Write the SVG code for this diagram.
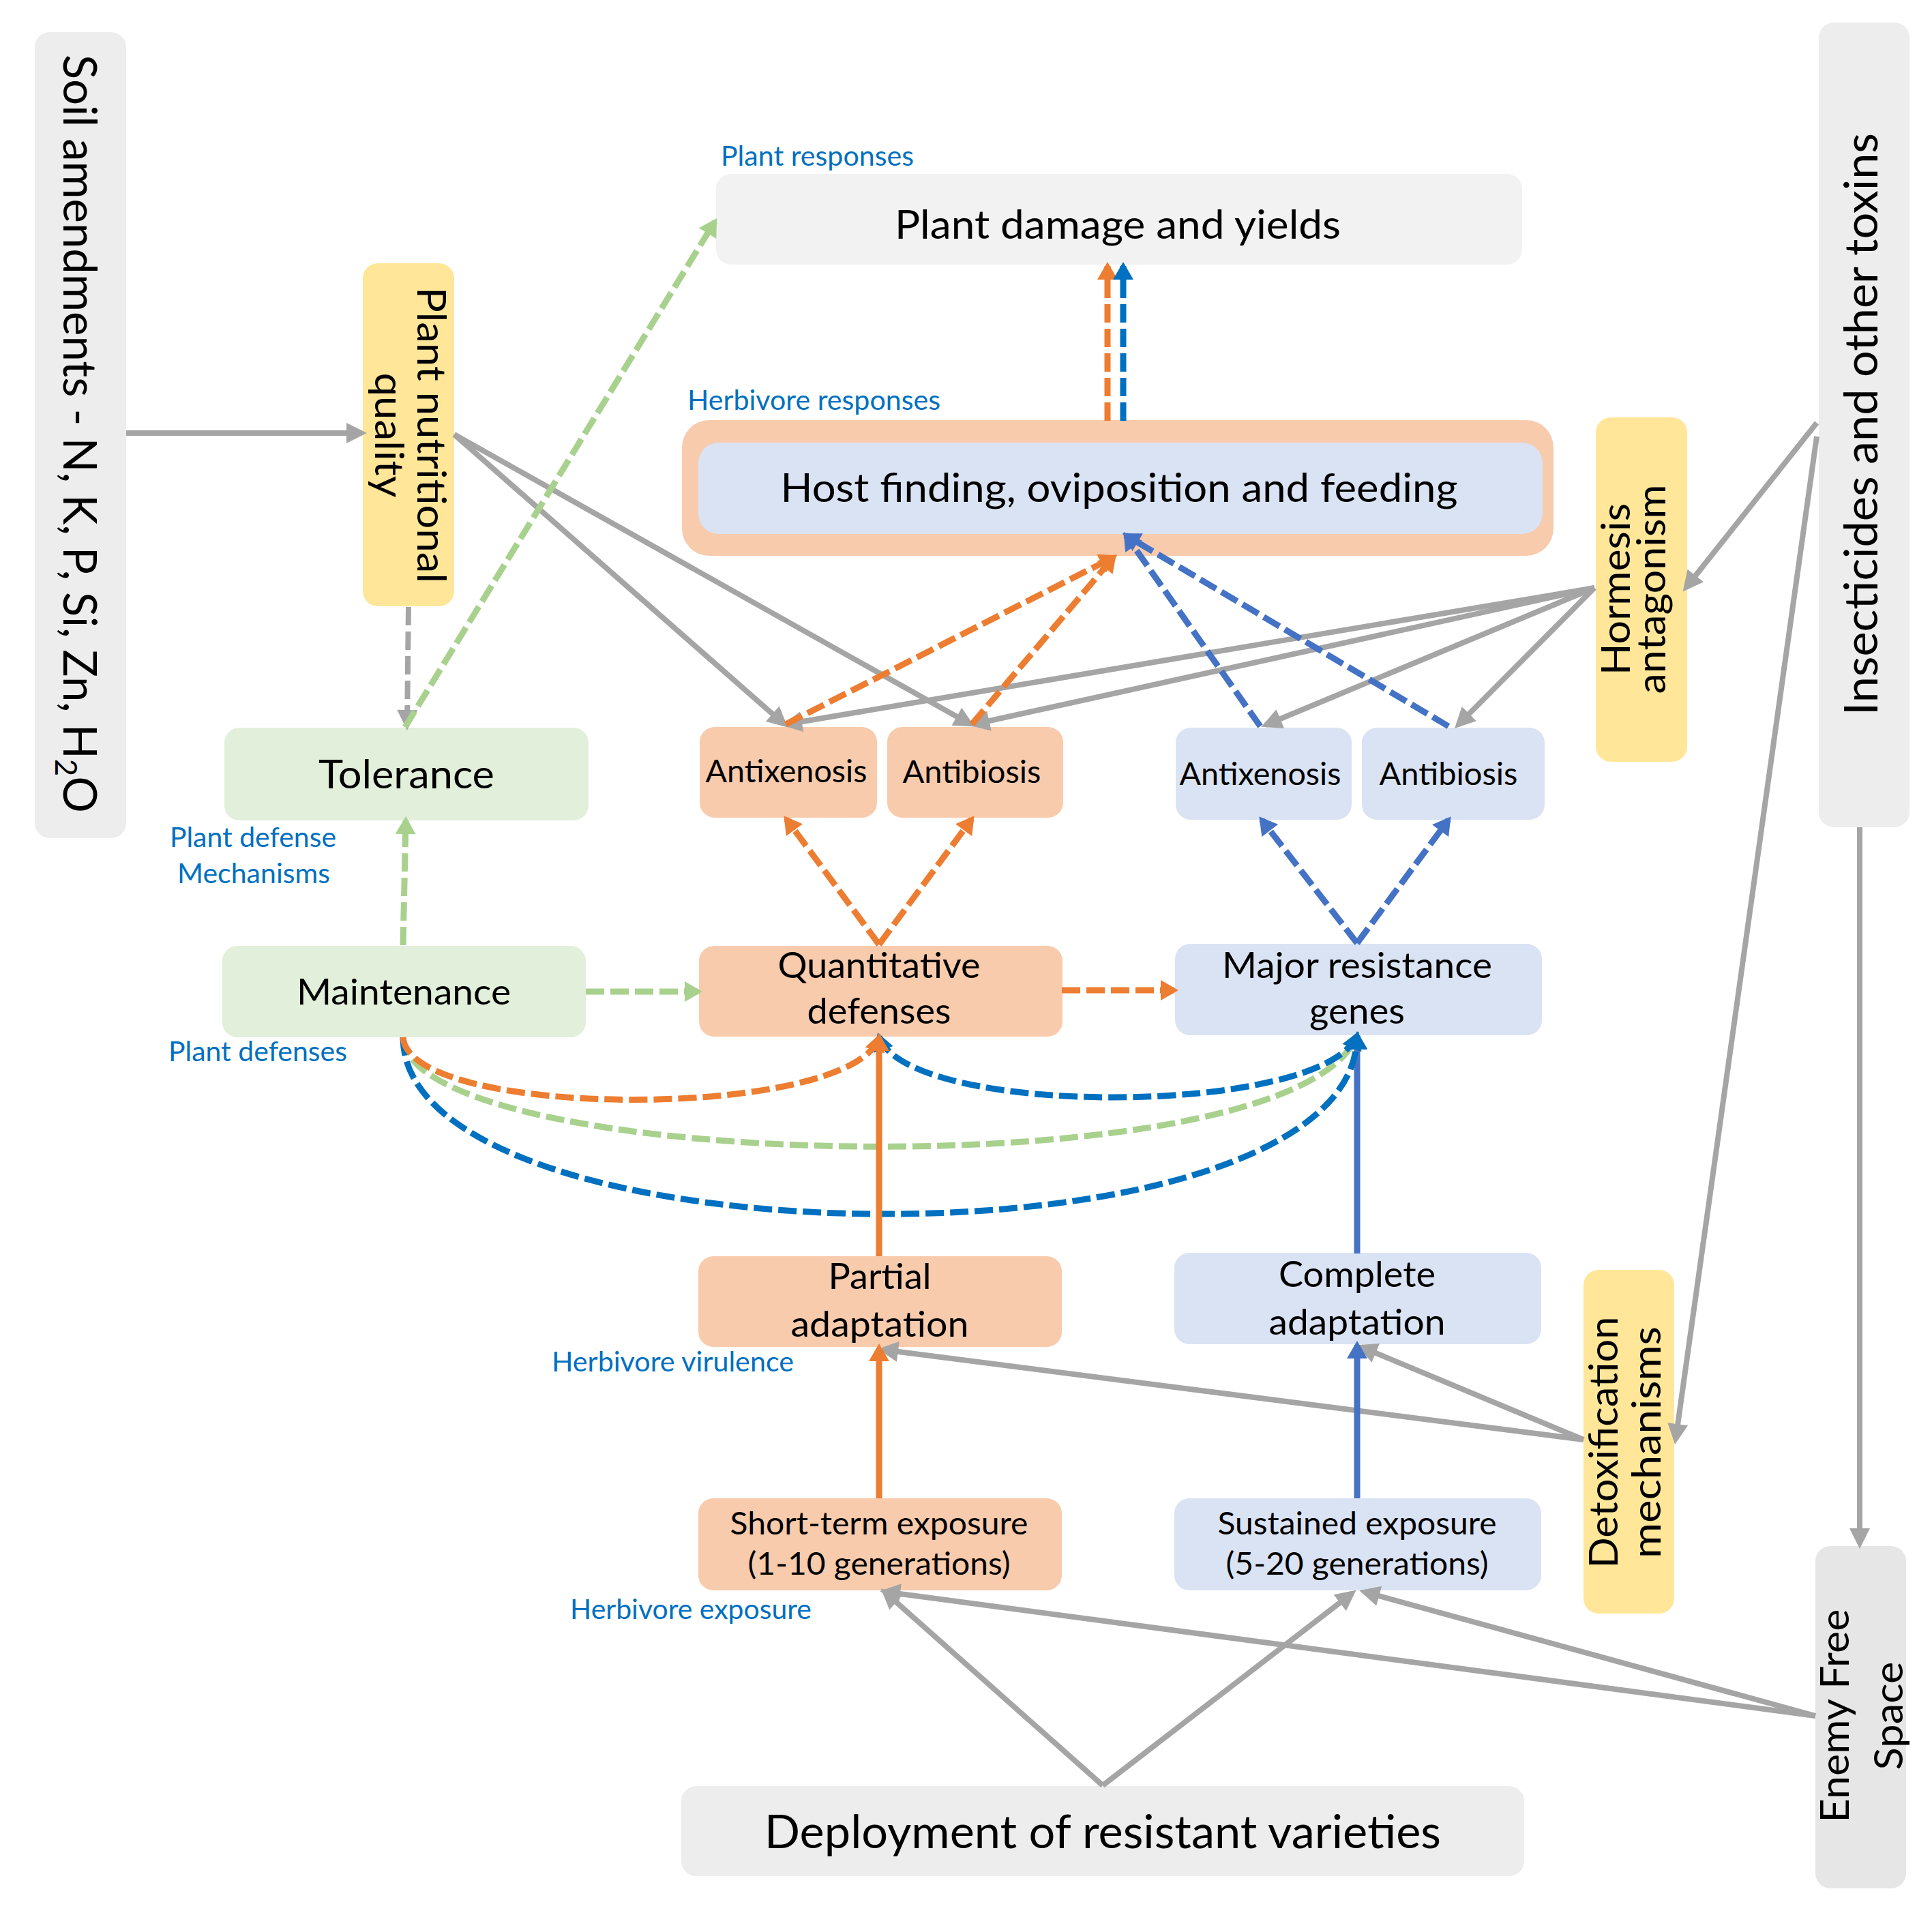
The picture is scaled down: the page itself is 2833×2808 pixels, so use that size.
<svg xmlns="http://www.w3.org/2000/svg" width="2833" height="2808" viewBox="0 0 2833 2808">
<style>
text{font-family:Lato,'Liberation Sans','DejaVu Sans',sans-serif;fill:#000;text-anchor:middle}
.l{fill:#0070C0;font-size:40px;text-anchor:start}
.lm{fill:#0070C0;font-size:40px}
.s74{font-size:67px}
.s66{font-size:59px}
.s64{font-size:58px}
.s58{font-size:52px}
.s51{font-size:46px}
.grey1{fill:#EDEDED}
.peach{fill:#F8CBAD}
.lblue{fill:#DAE3F3}
.lgreen{fill:#E2EFDA}
.yel{fill:#FFE699}
.c{fill:none}
.gy{stroke:#A5A5A5;stroke-width:8}
.or{stroke:#ED7D31;stroke-width:9}
.b1{stroke:#4472C4;stroke-width:9}
.b2{stroke:#0070C0;stroke-width:9}
.gr{stroke:#A9D18E;stroke-width:9}
.d{stroke-dasharray:27 9}
</style>
<defs>
<marker id="mg" markerUnits="userSpaceOnUse" markerWidth="30" markerHeight="30" refX="23" refY="15" orient="auto" overflow="visible"><path d="M0,0L30,15L0,30z" fill="#A5A5A5"/></marker>
<marker id="mo" markerUnits="userSpaceOnUse" markerWidth="26" markerHeight="30" refX="20" refY="15" orient="auto" overflow="visible"><path d="M0,0L26,15L0,30z" fill="#ED7D31"/></marker>
<marker id="mb1" markerUnits="userSpaceOnUse" markerWidth="26" markerHeight="30" refX="20" refY="15" orient="auto" overflow="visible"><path d="M0,0L26,15L0,30z" fill="#4472C4"/></marker>
<marker id="mb2" markerUnits="userSpaceOnUse" markerWidth="26" markerHeight="30" refX="20" refY="15" orient="auto-start-reverse" overflow="visible"><path d="M0,0L26,15L0,30z" fill="#0070C0"/></marker>
<marker id="mgr" markerUnits="userSpaceOnUse" markerWidth="26" markerHeight="30" refX="20" refY="15" orient="auto" overflow="visible"><path d="M0,0L26,15L0,30z" fill="#A9D18E"/></marker>
</defs>

<g id="soil">
<rect x="51" y="47" width="134" height="1182" rx="22" class="grey1"/>
<text class="s74" transform="translate(118,636) rotate(90)" y="25" textLength="1112" lengthAdjust="spacingAndGlyphs">Soil amendments - N, K, P, Si, Zn, H<tspan font-size="44" dy="12">2</tspan><tspan dy="-12">O</tspan></text>
</g>

<g id="plant-nutritional-quality">
<rect x="532" y="386" width="134" height="503" rx="22" class="yel"/>
<g transform="translate(599,638) rotate(90)">
<text class="s66" y="-13" textLength="434" lengthAdjust="spacingAndGlyphs">Plant nutritional</text>
<text class="s66" y="49" textLength="183" lengthAdjust="spacingAndGlyphs">quality</text>
</g>
</g>

<g id="tolerance">
<rect x="329" y="1067" width="534" height="136" rx="22" class="lgreen"/>
<text class="s64" x="596" y="1156" textLength="258" lengthAdjust="spacingAndGlyphs">Tolerance</text>
</g>

<g id="plant-damage">
<rect x="1050" y="255" width="1182" height="133" rx="22" fill="#F2F2F2"/>
<text class="s66" x="1639" y="350" textLength="654" lengthAdjust="spacingAndGlyphs">Plant damage and yields</text>
</g>

<g id="host-finding">
<rect x="1000" y="616" width="1278" height="199" rx="40" class="peach"/>
<rect x="1024" y="649" width="1238" height="134" rx="30" class="lblue"/>
<text class="s66" x="1641" y="736" textLength="993" lengthAdjust="spacingAndGlyphs">Host finding, oviposition and feeding</text>
</g>

<g id="antixenosis-q">
<rect x="1026" y="1066" width="260" height="133" rx="22" class="peach"/>
<text class="s51" x="1153" y="1147" textLength="237" lengthAdjust="spacingAndGlyphs">Antixenosis</text>
</g>
<g id="antibiosis-q">
<rect x="1301" y="1066" width="258" height="133" rx="22" class="peach"/>
<text class="s51" x="1425" y="1148" textLength="203" lengthAdjust="spacingAndGlyphs">Antibiosis</text>
</g>
<g id="antixenosis-m">
<rect x="1724" y="1067" width="258" height="135" rx="22" class="lblue"/>
<text class="s51" x="1848" y="1151" textLength="237" lengthAdjust="spacingAndGlyphs">Antixenosis</text>
</g>
<g id="antibiosis-m">
<rect x="1997" y="1067" width="268" height="135" rx="22" class="lblue"/>
<text class="s51" x="2124" y="1151" textLength="203" lengthAdjust="spacingAndGlyphs">Antibiosis</text>
</g>

<g id="hormesis">
<rect x="2340" y="612" width="134" height="505" rx="22" class="yel"/>
<g transform="translate(2407,864) rotate(-90)">
<text class="s66" y="-17" textLength="252" lengthAdjust="spacingAndGlyphs">Hormesis</text>
<text class="s66" y="35" textLength="307" lengthAdjust="spacingAndGlyphs">antagonism</text>
</g>
</g>

<g id="insecticides">
<rect x="2667" y="33" width="133" height="1180" rx="22" class="grey1"/>
<text class="s74" transform="translate(2733,622) rotate(-90)" y="20" textLength="854" lengthAdjust="spacingAndGlyphs">Insecticides and other toxins</text>
</g>

<g id="maintenance">
<rect x="326" y="1387" width="533" height="134" rx="22" class="lgreen"/>
<text class="s58" x="592" y="1473" textLength="314" lengthAdjust="spacingAndGlyphs">Maintenance</text>
</g>

<g id="quantitative-defenses">
<rect x="1025" y="1387" width="533" height="133" rx="22" class="peach"/>
<text class="s58" x="1289" y="1434" textLength="297" lengthAdjust="spacingAndGlyphs">Quantitative</text>
<text class="s58" x="1289" y="1501" textLength="211" lengthAdjust="spacingAndGlyphs">defenses</text>
</g>

<g id="major-resistance-genes">
<rect x="1723" y="1384" width="538" height="134" rx="22" class="lblue"/>
<text class="s58" x="1990" y="1434" textLength="396" lengthAdjust="spacingAndGlyphs">Major resistance</text>
<text class="s58" x="1990" y="1501" textLength="140" lengthAdjust="spacingAndGlyphs">genes</text>
</g>

<g id="partial-adaptation">
<rect x="1024" y="1842" width="533" height="133" rx="22" class="peach"/>
<text class="s58" x="1290" y="1890" textLength="151" lengthAdjust="spacingAndGlyphs">Partial</text>
<text class="s58" x="1290" y="1960" textLength="261" lengthAdjust="spacingAndGlyphs">adaptation</text>
</g>

<g id="complete-adaptation">
<rect x="1722" y="1837" width="538" height="134" rx="22" class="lblue"/>
<text class="s58" x="1990" y="1887" textLength="230" lengthAdjust="spacingAndGlyphs">Complete</text>
<text class="s58" x="1990" y="1957" textLength="259" lengthAdjust="spacingAndGlyphs">adaptation</text>
</g>

<g id="short-term-exposure">
<rect x="1024" y="2197" width="533" height="135" rx="22" class="peach"/>
<text class="s51" x="1289" y="2250" textLength="437" lengthAdjust="spacingAndGlyphs">Short-term exposure</text>
<text class="s51" x="1289" y="2309" textLength="385" lengthAdjust="spacingAndGlyphs">(1-10 generations)</text>
</g>

<g id="sustained-exposure">
<rect x="1722" y="2197" width="538" height="135" rx="22" class="lblue"/>
<text class="s51" x="1990" y="2250" textLength="409" lengthAdjust="spacingAndGlyphs">Sustained exposure</text>
<text class="s51" x="1990" y="2309" textLength="385" lengthAdjust="spacingAndGlyphs">(5-20 generations)</text>
</g>

<g id="deployment">
<rect x="999" y="2619" width="1236" height="132" rx="22" class="grey1"/>
<text class="s74" x="1617" y="2710" textLength="992" lengthAdjust="spacingAndGlyphs">Deployment of resistant varieties</text>
</g>

<g id="detoxification">
<rect x="2322" y="1862" width="133" height="504" rx="22" class="yel"/>
<g transform="translate(2388,2115) rotate(-90)">
<text class="s66" y="-16" textLength="369" lengthAdjust="spacingAndGlyphs">Detoxification</text>
<text class="s66" y="47" textLength="340" lengthAdjust="spacingAndGlyphs">mechanisms</text>
</g>
</g>

<g id="enemy-free-space">
<rect x="2662" y="2267" width="133" height="502" rx="22" fill="#E7E6E6"/>
<g transform="translate(2728,2516) rotate(-90)">
<text class="s66" y="-17" textLength="313" lengthAdjust="spacingAndGlyphs">Enemy Free</text>
<text class="s66" y="62" textLength="159" lengthAdjust="spacingAndGlyphs">Space</text>
</g>
</g>

<g id="labels">
<text class="l" x="1057" y="243" textLength="283" lengthAdjust="spacingAndGlyphs">Plant responses</text>
<text class="l" x="1008" y="601" textLength="371" lengthAdjust="spacingAndGlyphs">Herbivore responses</text>
<text class="lm" x="371" y="1242" textLength="244" lengthAdjust="spacingAndGlyphs">Plant defense</text>
<text class="lm" x="372" y="1295" textLength="224" lengthAdjust="spacingAndGlyphs">Mechanisms</text>
<text class="l" x="247" y="1556" textLength="262" lengthAdjust="spacingAndGlyphs">Plant defenses</text>
<text class="l" x="809" y="2011" textLength="355" lengthAdjust="spacingAndGlyphs">Herbivore virulence</text>
<text class="l" x="836" y="2374" textLength="354" lengthAdjust="spacingAndGlyphs">Herbivore exposure</text>
</g>

<g id="connectors" class="c">
<path class="gy" d="M185,635L531,635" marker-end="url(#mg)"/>
<path class="gy" d="M666,637L1150,1062" marker-end="url(#mg)"/>
<path class="gy" d="M666,637L1423,1062" marker-end="url(#mg)"/>
<path class="gy" d="M2338,862L1153,1062" marker-end="url(#mg)"/>
<path class="gy" d="M2338,862L1428,1062" marker-end="url(#mg)"/>
<path class="gy" d="M2338,862L1856,1063" marker-end="url(#mg)"/>
<path class="gy" d="M2338,862L2138,1063" marker-end="url(#mg)"/>
<path class="gy" d="M2664,620L2472,862" marker-end="url(#mg)"/>
<path class="gy" d="M2664,640L2457,2111" marker-end="url(#mg)"/>
<path class="gy" d="M2727,1213L2727,2264" marker-end="url(#mg)"/>
<path class="gy" d="M2322,2111L1294,1979" marker-end="url(#mg)"/>
<path class="gy" d="M2322,2111L1996,1975" marker-end="url(#mg)"/>
<path class="gy" d="M2662,2516L1297,2334" marker-end="url(#mg)"/>
<path class="gy" d="M2662,2516L2000,2334" marker-end="url(#mg)"/>
<path class="gy" d="M1617,2618L1297,2334" marker-end="url(#mg)"/>
<path class="gy" d="M1617,2618L1983,2336" marker-end="url(#mg)"/>
<path class="gy d" d="M599,890L597,1064" stroke-width="9" marker-end="url(#mg)"/>
<path class="gr d" d="M594,1066L1048,325" marker-end="url(#mgr)"/>
<path class="gr d" d="M591,1386L595,1203" marker-end="url(#mgr)"/>
<path class="gr d" d="M859,1454L1024,1454" marker-end="url(#mgr)"/>
<path class="gr d" d="M591,1521C600,1720 1900,1750 1990,1518" marker-end="url(#mgr)"/>
<path class="or d" d="M1152,1062L1633,817" marker-end="url(#mo)"/>
<path class="or d" d="M1425,1062L1633,817" marker-end="url(#mo)"/>
<path class="or d" d="M1624,617L1624,390" marker-end="url(#mo)"/>
<path class="or d" d="M1289,1385L1153,1201" marker-end="url(#mo)"/>
<path class="or d" d="M1289,1385L1425,1201" marker-end="url(#mo)"/>
<path class="or d" d="M1557,1452L1722,1452" marker-end="url(#mo)"/>
<path class="b1 d" d="M1848,1065L1651,785" marker-end="url(#mb1)"/>
<path class="b1 d" d="M2124,1065L1651,785" marker-end="url(#mb1)"/>
<path class="b1 d" d="M1990,1383L1850,1202" marker-end="url(#mb1)"/>
<path class="b1 d" d="M1990,1383L2124,1202" marker-end="url(#mb1)"/>
<path class="b1" d="M1990,1838L1990,1519" marker-end="url(#mb1)"/>
<path class="b1" d="M1990,2197L1990,1972" marker-end="url(#mb1)"/>
<path class="or" d="M1289,2197L1289,1976" marker-end="url(#mo)"/>
<path class="b2 d" d="M1647,617L1647,390" marker-end="url(#mb2)"/>
<path class="b2 d" d="M591,1521C591,1860 1990,1874 1990,1518" marker-end="url(#mb2)"/>
<path class="b2 d" d="M1289,1520C1330,1640 1940,1638 1990,1518" marker-start="url(#mb2)" marker-end="url(#mb2)"/>
<path class="or d" d="M591,1521C600,1643 1250,1643 1289,1521" marker-end="url(#mo)"/>
<path class="or" d="M1289,1842L1289,1521" marker-end="url(#mo)"/>
</g>
</svg>
